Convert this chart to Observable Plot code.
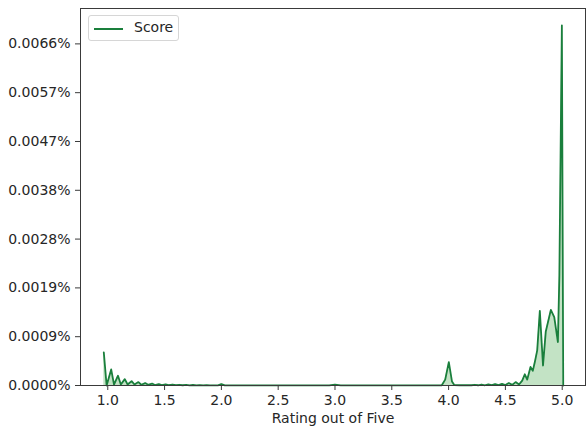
<!DOCTYPE html>
<html>
<head>
<meta charset="utf-8">
<script src="https://cdn.jsdelivr.net/npm/d3@7"></script>
<script src="https://cdn.jsdelivr.net/npm/@observablehq/plot@0.6"></script>
<style>
  html, body { margin: 0; padding: 0; background: #fff; }
  #wrap { position: relative; width: 586px; height: 432px; font-family: "DejaVu Sans", sans-serif; }
  #legend { position: absolute; left: 88px; top: 15px; width: 91px; height: 26px; border: 1px solid #d6d6d6; border-radius: 3px; background: rgba(255,255,255,0.85); box-sizing: border-box; }
  #legend .sw { position: absolute; left: 5px; top: 12px; width: 29px; height: 0; border-top: 2px solid #1a7f3c; }
  #legend .lb { position: absolute; left: 45px; top: 3px; font-size: 14px; color: #262626; }
</style>
</head>
<body>
<div id="wrap">
  <div id="chart"></div>
  <div id="legend"><div class="sw"></div><div class="lb">Score</div></div>
</div>
<script>
// Rating values (x) and density in tick units (y)
const ratings = [0.965, 0.99, 1.03, 1.055, 1.09, 1.115, 1.15, 1.175, 1.21, 1.235, 1.27, 1.295, 1.33, 1.355, 1.39, 1.415, 1.45, 1.475, 1.51, 1.535, 1.57, 1.6, 1.63, 1.66, 1.69, 1.72, 1.75, 1.78, 1.81, 1.84, 1.87, 1.9, 1.93, 1.97, 2.0, 2.03, 2.1, 2.5, 2.95, 3.0, 3.05, 3.5, 3.94, 3.97, 4.002, 4.03, 4.05, 4.1, 4.2, 4.23, 4.26, 4.29, 4.32, 4.35, 4.38, 4.41, 4.44, 4.47, 4.5, 4.53, 4.56, 4.59, 4.62, 4.648, 4.671, 4.692, 4.721, 4.741, 4.759, 4.78, 4.803, 4.831, 4.855, 4.90, 4.93, 4.962, 4.975, 4.997, 5.009];
const scores = [0.68, 0.0, 0.33, 0.02, 0.2, 0.02, 0.13, 0.02, 0.09, 0.02, 0.07, 0.015, 0.05, 0.015, 0.04, 0.01, 0.03, 0.01, 0.025, 0.008, 0.02, 0.006, 0.015, 0.005, 0.012, 0.004, 0.01, 0.003, 0.008, 0.003, 0.006, 0.002, 0.004, 0.002, 0.03, 0.002, 0.002, 0.002, 0.002, 0.02, 0.002, 0.002, 0.005, 0.12, 0.48, 0.08, 0.01, 0.005, 0.005, 0.015, 0.005, 0.02, 0.005, 0.025, 0.008, 0.03, 0.01, 0.035, 0.01, 0.05, 0.012, 0.07, 0.02, 0.1, 0.23, 0.12, 0.38, 0.3, 0.48, 0.72, 1.53, 0.41, 1.1, 1.55, 1.40, 0.89, 2.25, 7.38, 0];
const xTicks = [1.0, 1.5, 2.0, 2.5, 3.0, 3.5, 4.0, 4.5, 5.0];
const xTickLabels = ["1.0", "1.5", "2.0", "2.5", "3.0", "3.5", "4.0", "4.5", "5.0"];
const yTicks = [0, 1, 2, 3, 4, 5, 6, 7];
const yTickLabels = ["0.0000%", "0.0009%", "0.0019%", "0.0028%", "0.0038%", "0.0047%", "0.0057%", "0.0066%"];
const xLabel = "Rating out of Five";

const data = ratings.map((r, i) => ({x: r, y: scores[i]}));
const lineColor = "#1a7f3c";
const fillColor = "#c3e3c5";

const chart = Plot.plot({
  width: 586,
  height: 432,
  marginLeft: 80,
  marginTop: 8,
  marginRight: 1,
  marginBottom: 47,
  style: {fontFamily: "DejaVu Sans, sans-serif", fontSize: "14px", color: "#262626", background: "#fff"},
  x: {domain: [0.760, 5.205]},
  y: {domain: [0, 7.725]},
  marks: [
    Plot.areaY(data, {x: "x", y: "y", fill: fillColor, fillOpacity: 1}),
    Plot.lineY(data, {x: "x", y: "y", stroke: lineColor, strokeWidth: 1.8}),
    Plot.frame({stroke: "#3a3a3a", strokeWidth: 1}),
    Plot.axisX({ticks: xTicks, tickFormat: (d, i) => xTickLabels[i], tickSize: 5, tickPadding: 5, label: null, stroke: "#3a3a3a", fontSize: 14}),
    Plot.axisY({ticks: yTicks, tickFormat: (d, i) => yTickLabels[i], tickSize: 5, tickPadding: 5, label: null, stroke: "#3a3a3a", fontSize: 14}),
    Plot.text([xLabel], {frameAnchor: "bottom", dy: 37, text: d => d, fontSize: 14, fill: "#262626"})
  ]
});
document.getElementById("chart").appendChild(chart);
</script>
</body>
</html>
